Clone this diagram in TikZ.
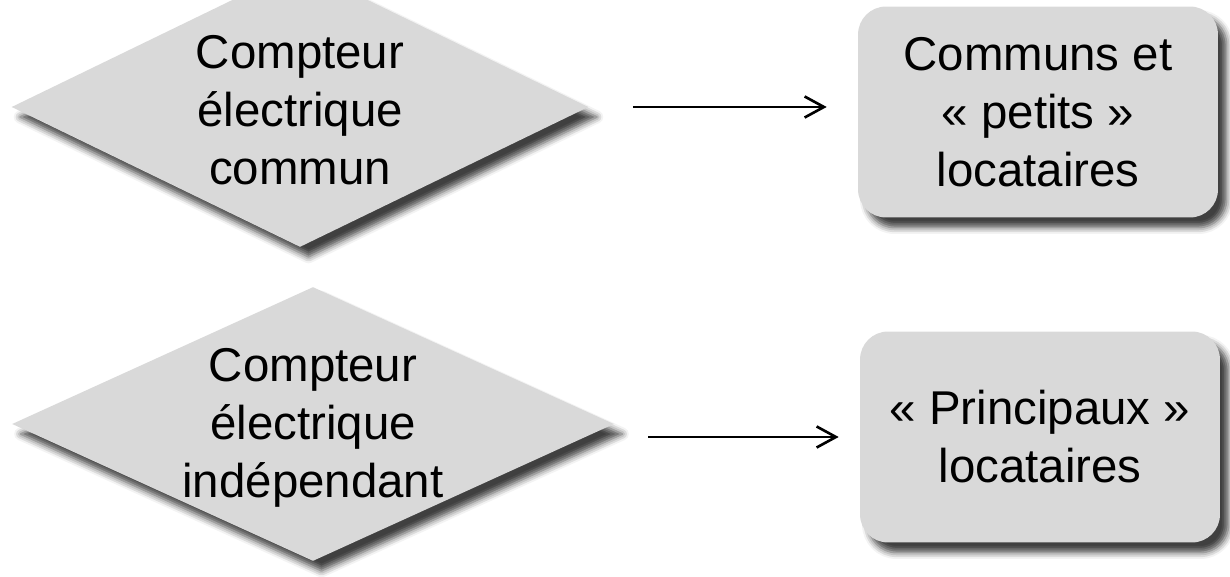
\documentclass[tikz,border=0pt]{standalone}
\usepackage{fontspec}
\setmainfont{Liberation Sans}
\usetikzlibrary{arrows.meta, shapes.geometric, shadows.blur, calc}
\definecolor{boxgray}{HTML}{D9D9D9}

\begin{document}
\begin{tikzpicture}[
    x=0.02cm, y=-0.02cm,
    >={Straight Barb[length=11pt, width=12pt]},
    every node/.style={font=\fontsize{27}{33}\selectfont, align=center},
    softshadow/.style={blur shadow={shadow xshift=0.17cm, shadow yshift=-0.2cm,
        shadow blur radius=0.13cm, shadow opacity=75}},
    meter/.style={diamond, fill=boxgray, inner sep=0pt, softshadow},
    tenant/.style={rectangle, rounded corners=0.56cm, fill=boxgray, inner sep=0pt,
        minimum width=7.2cm, minimum height=4.22cm, softshadow},
    flow/.style={->, line width=1.5pt},
]
\useasboundingbox (0,0) rectangle (1230,577);
% the two meters (diamonds), text set on top
\node[meter, minimum width=11.54cm, minimum height=5.6cm] (d1) at (300,107) {};
\node (t1) at ($(d1.center)+(0,3)$) {Compteur\\électrique\\commun};
\node[meter, minimum width=12.04cm, minimum height=5.48cm] (d2) at (313,424) {};
\node (t2) at ($(d2.center)+(0,4)$) {Compteur\\électrique\\indépendant};
% who is billed
\node[tenant] (r1) at (1038,112) {Communs et\\« petits »\\locataires};
\node[tenant] (r2) at (1040,437) {« Principaux »\\locataires};
% arrows
\draw[flow, shorten <=0.88cm, shorten >=0.62cm] (d1.east) -- (d1.east -| r1.west);
\draw[flow, shorten <=0.68cm, shorten >=0.42cm] (r2.west -| d2.east) -- (r2.west);
\end{tikzpicture}
\end{document}
